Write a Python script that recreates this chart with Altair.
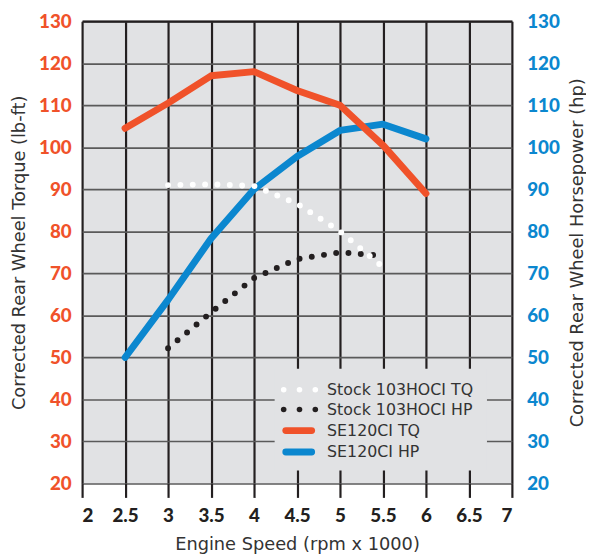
import altair as alt
import pandas as pd

# ---- data ----
rpm = [2.5, 3, 3.5, 4, 4.5, 5, 5.5, 6]
se_tq = [104.5, 110.5, 117, 118, 113.5, 110, 100.5, 89]
se_hp = [50, 63.7, 78.3, 90, 97.8, 104, 105.5, 102]

stock_rpm = [3, 3.5, 4, 4.5, 5, 5.5]
stock_tq = [91, 91.2, 90.8, 86.6, 80, 71.5]
stock_hp = [52.2, 60.7, 68.9, 73.4, 75, 74.2]

x_ticks = [2, 2.5, 3, 3.5, 4, 4.5, 5, 5.5, 6, 6.5, 7]
y_ticks = [20, 30, 40, 50, 60, 70, 80, 90, 100, 110, 120, 130]

legend_labels = ["Stock 103HOCI TQ", "Stock 103HOCI HP", "SE120CI TQ", "SE120CI HP"]
legend_y = [42.3, 37.6, 32.6, 27.5]
legend_dot_x = [4.345, 4.529, 4.713]
legend_line_x = [4.37, 4.67]
legend_text_x = [4.85]
legend_box_x = [4.24, 6.71]
legend_box_y = [23.1, 47.3]

# ---- styles ----
ORANGE = "#F0522A"
BLUE = "#0B87CF"
DARK = "#231F20"
BG = "#E1E2E4"
TXT = "#333333"
LABEL_FONT = "Lato"
TITLE_FONT = "DejaVu Sans"

xs = alt.Scale(domain=[2, 7], nice=False, zero=False)
ys = alt.Scale(domain=[20, 130], nice=False, zero=False)

x_axis = alt.Axis(values=x_ticks, format="~g", grid=True, gridColor=DARK, gridWidth=2.2,
                  tickSize=14, tickWidth=2.2, tickColor=DARK, domain=False,
                  labelFont=LABEL_FONT, labelFontWeight=900, labelFontSize=19,
                  labelColor=DARK, labelPadding=9,
                  title="Engine Speed (rpm x 1000)", titleFont=TITLE_FONT,
                  titleFontWeight="normal", titleFontSize=18, titleColor=TXT, titlePadding=11)
y_left_axis = alt.Axis(values=y_ticks, grid=True, gridColor="#5A5A5A", gridWidth=1.6,
                       ticks=False, domain=False, labelFont=LABEL_FONT, labelFontWeight=900,
                       labelFontSize=19, labelColor=ORANGE, labelPadding=11,
                       title="Corrected Rear Wheel Torque (lb-ft)", titleFont=TITLE_FONT,
                       titleFontWeight="normal", titleFontSize=18, titleColor=TXT, titlePadding=10)
x_top_axis = alt.Axis(orient="top", labels=False, ticks=False, grid=False, domain=True,
                      domainColor=DARK, domainWidth=2.2, title=None, zindex=1)
y_right_axis = alt.Axis(orient="right", values=y_ticks, grid=False, ticks=False, domain=False,
                        labelFont=LABEL_FONT, labelFontWeight=900, labelFontSize=19,
                        labelColor=BLUE, labelPadding=15,
                        title="Corrected Rear Wheel Horsepower (hp)", titleFont=TITLE_FONT,
                        titleFontWeight="normal", titleFontSize=18, titleColor=TXT,
                        titleAngle=270, titleBaseline="top", titlePadding=9)

XL = alt.X("x:Q", scale=xs, axis=x_axis)
YL = alt.Y("y:Q", scale=ys, axis=y_left_axis)
XR = alt.X("x:Q", scale=xs, axis=x_top_axis)
YR = alt.Y("y:Q", scale=ys, axis=y_right_axis)

se_tq_df = pd.DataFrame({"x": rpm, "y": se_tq})
se_hp_df = pd.DataFrame({"x": rpm, "y": se_hp})
st_tq_df = pd.DataFrame({"x": stock_rpm, "y": stock_tq})
st_hp_df = pd.DataFrame({"x": stock_rpm, "y": stock_hp})

# legend tables
box_df = pd.DataFrame({"x": [legend_box_x[0]], "x2": [legend_box_x[1]],
                       "y": [legend_box_y[0]], "y2": [legend_box_y[1]]})
dot_rows = []
for lab, yy in zip(legend_labels[:2], legend_y[:2]):
    for dx in legend_dot_x:
        dot_rows.append({"x": dx, "y": yy, "s": lab})
dots_df = pd.DataFrame(dot_rows)
line_rows = []
for lab, yy in zip(legend_labels[2:], legend_y[2:]):
    for lx in legend_line_x:
        line_rows.append({"x": lx, "y": yy, "s": lab})
leg_lines_df = pd.DataFrame(line_rows)
text_df = pd.DataFrame({"x": legend_text_x * 4, "y": legend_y, "s": legend_labels})

leg_color = alt.Color("s:N", scale=alt.Scale(domain=legend_labels,
                                             range=["#FFFFFF", DARK, ORANGE, BLUE]), legend=None)

orange_line = alt.Chart(se_tq_df).mark_line(color=ORANGE, strokeWidth=7, strokeCap="round",
                                            strokeJoin="round").encode(x=XL, y=YL)
white_dots = alt.Chart(st_tq_df).mark_line(color="#FFFFFF", strokeWidth=6, strokeCap="round",
                                           strokeDash=[0, 12.5]).encode(x=XL, y=YL)
box = alt.Chart(box_df).mark_rect(color=BG).encode(x=XL, x2="x2:Q", y=YL, y2="y2:Q")
leg_dots = alt.Chart(dots_df).mark_circle(size=32, opacity=1).encode(x=XL, y=YL, color=leg_color)
leg_lines = alt.Chart(leg_lines_df).mark_line(strokeWidth=7, strokeCap="round").encode(
    x=XL, y=YL, color=leg_color, detail="s:N")
leg_text = alt.Chart(text_df).mark_text(align="left", baseline="middle", font=TITLE_FONT,
                                        fontSize=16, color=TXT).encode(x=XL, y=YL, text="s:N")

left = alt.layer(box, leg_dots, leg_lines, leg_text, orange_line, white_dots)

blue_line = alt.Chart(se_hp_df).mark_line(color=BLUE, strokeWidth=7, strokeCap="round",
                                          strokeJoin="round").encode(x=XR, y=YR)
black_dots = alt.Chart(st_hp_df).mark_line(color=DARK, strokeWidth=6, strokeCap="round",
                                           strokeDash=[0, 12.5]).encode(x=XR, y=YR)
right = alt.layer(blue_line, black_dots)

chart = alt.layer(right, left).resolve_scale(y="independent").resolve_axis(
    x="independent", y="independent").properties(
    width=435, height=468, autosize="none",
    padding={"left": 75, "top": 10, "right": 75, "bottom": 70},
).configure_view(fill=BG, strokeWidth=0)

chart.save("out.html", embed_options={"renderer": "svg", "actions": False})
